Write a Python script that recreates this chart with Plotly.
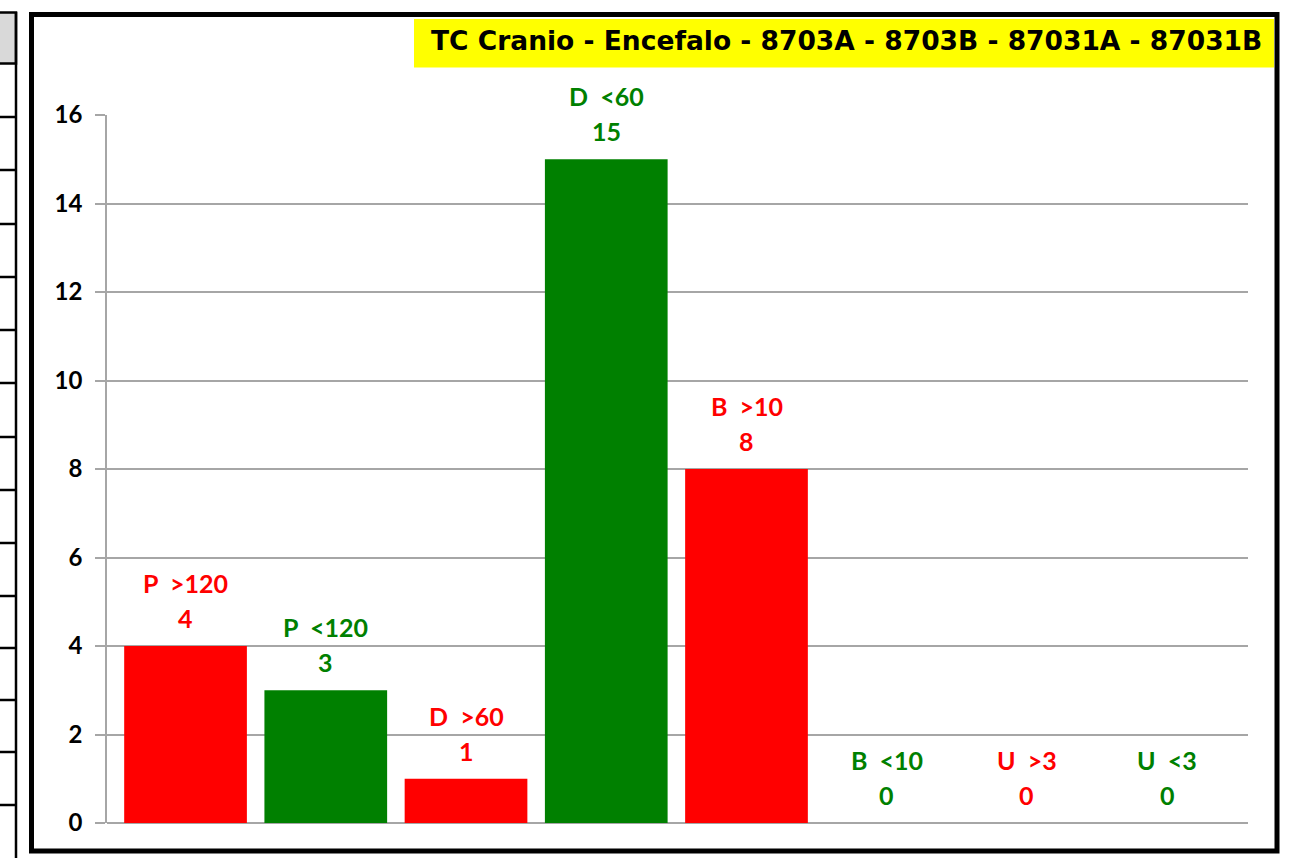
import plotly.graph_objects as go

# Chart data
categories = ["P  >120", "P  <120", "D  >60", "D  <60", "B  >10", "B  <10", "U  >3", "U  <3"]
values = [4, 3, 1, 15, 8, 0, 0, 0]
bar_colors = ["#ff0000", "#008000", "#ff0000", "#008000", "#ff0000", "#008000", "#ff0000", "#008000"]
y_ticks = [0, 2, 4, 6, 8, 10, 12, 14, 16]
title_text = "TC Cranio - Encefalo - 8703A - 8703B - 87031A - 87031B"

W, H = 1295, 858
ML, MR, MT, MB = 107, 47, 115, 35
PW, PH = W - ML - MR, H - MT - MB
FONT = "Lato"
TITLE_FONT = "DejaVu Sans"


def px_x(px):
    return (px - ML) / PW


def px_y(py):
    return (H - MB - py) / PH


fig = go.Figure()
fig.add_trace(go.Bar(
    x=categories,
    y=values,
    marker=dict(color=bar_colors, line=dict(width=0)),
    width=0.875,
    hoverinfo="x+y",
))

# Two-line labels above every bar: category name and value
annotations = []
for cat, val, col in zip(categories, values, bar_colors):
    annotations.append(dict(x=cat, y=val, xref="x", yref="y", text=str(val),
                            showarrow=False, yanchor="middle", yshift=28,
                            font=dict(family=FONT, size=25, color=col, weight="bold")))
    annotations.append(dict(x=cat, y=val, xref="x", yref="y", text=cat,
                            showarrow=False, yanchor="middle", yshift=63,
                            font=dict(family=FONT, size=25, color=col, weight="bold")))

# Title on a yellow band in the top-right corner
annotations.append(dict(x=px_x(846), y=px_y(41), xref="paper", yref="paper",
                        text=title_text, showarrow=False, xanchor="center", yanchor="middle",
                        font=dict(family=TITLE_FONT, size=26.5, color="#000000", weight="bold")))

shapes = [
    dict(type="rect", xref="paper", yref="paper", x0=px_x(414), x1=px_x(1274),
         y0=px_y(67.5), y1=px_y(19), fillcolor="#ffff00", line=dict(width=0), layer="below"),
    # outer frame of the chart
    dict(type="rect", xref="paper", yref="paper", x0=px_x(31.5), x1=px_x(1277),
         y0=px_y(851), y1=px_y(14.5), line=dict(color="#000000", width=5), fillcolor="rgba(0,0,0,0)"),
    # edge of the neighbouring table on the left
    dict(type="rect", xref="paper", yref="paper", x0=px_x(-5), x1=px_x(16),
         y0=px_y(63.5), y1=px_y(12.5), fillcolor="#d9d9d9", line=dict(color="#000000", width=2.5), layer="below"),
    dict(type="line", xref="paper", yref="paper", x0=px_x(16), x1=px_x(16),
         y0=px_y(12), y1=px_y(860), line=dict(color="#000000", width=2.5)),
]
for row_y in [117, 170, 224, 277, 330, 383, 437, 490, 543, 596, 648, 700, 752, 805]:
    shapes.append(dict(type="line", xref="paper", yref="paper", x0=px_x(-5), x1=px_x(16),
                       y0=px_y(row_y), y1=px_y(row_y), line=dict(color="#000000", width=2.5)))

fig.update_layout(
    width=W, height=H,
    margin=dict(l=ML, r=MR, t=MT, b=MB, pad=0),
    paper_bgcolor="#ffffff", plot_bgcolor="#ffffff",
    showlegend=False,
    bargap=0.125,
    annotations=annotations,
    shapes=shapes,
    xaxis=dict(range=[-0.56, 7.576], showticklabels=False, showgrid=False,
               zeroline=False, showline=False, ticks=""),
    yaxis=dict(range=[0, 16], tickvals=y_ticks, showgrid=True, gridcolor="#a6a6a6", gridwidth=1.5,
               zeroline=True, zerolinecolor="#a6a6a6", zerolinewidth=1.5,
               showline=True, linecolor="#a6a6a6", linewidth=1.5,
               ticks="outside", ticklen=10, tickcolor="#a6a6a6", tickwidth=1.5,
               ticklabelstandoff=8,
               tickfont=dict(family=FONT, size=24, color="#000000", weight="bold")),
)

fig.write_html("out.html")
